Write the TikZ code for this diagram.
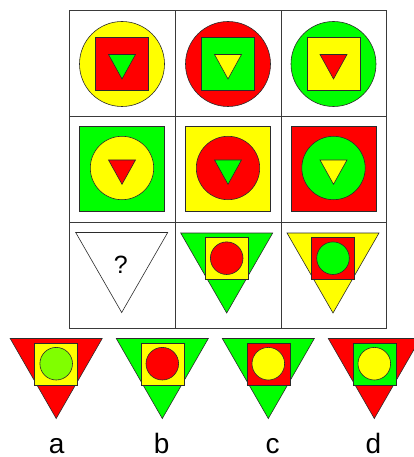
\documentclass[tikz,border=0pt]{standalone}
\usepackage{fontspec}
\setmainfont{Liberation Sans}

\definecolor{puzzleRed}{HTML}{FF0000}
\definecolor{puzzleGreen}{HTML}{00FF00}
\definecolor{puzzleYellow}{HTML}{FFFF00}
\definecolor{puzzleLime}{HTML}{80FF00}
\definecolor{puzzleInk}{HTML}{2B2B2B}
\definecolor{puzzleGrid}{HTML}{3A3A3A}

\begin{document}
\begin{tikzpicture}[x=1pt,y=-1pt,
  figline/.style={draw=puzzleInk,line width=0.6pt},
  gridline/.style={draw=puzzleGrid,line width=1pt}]
  \useasboundingbox (0,0) rectangle (414,457);
  \clip (0,0) rectangle (414,457);

  % grid of nine cells
  \path[gridline] (69,11) rectangle (386,328);
  \foreach \gx in {175,281}
    \path[gridline] (\gx,11) -- (\gx,328);
  \foreach \gy in {117,222}
    \path[gridline] (69,\gy) -- (386,\gy);

  % first row: circle, square, small triangle
  \foreach \x/\outer/\mid/\inner in {
    122/puzzleYellow/puzzleRed/puzzleGreen,
    228/puzzleRed/puzzleGreen/puzzleYellow,
    333.5/puzzleGreen/puzzleYellow/puzzleRed}{
    \path[figline,fill=\outer] (\x,64) circle[radius=42.5];
    \path[figline,fill=\mid] (\x-26.5,37.5) rectangle ++(53,53);
    \path[figline,fill=\inner] (\x-13.5,54.5) -- (\x+13.5,54.5) -- (\x,79) -- cycle;
  }

  % second row: square, circle, small triangle
  \foreach \x/\outer/\mid/\inner in {
    122/puzzleGreen/puzzleYellow/puzzleRed,
    228/puzzleYellow/puzzleRed/puzzleGreen,
    333.5/puzzleRed/puzzleGreen/puzzleYellow}{
    \path[figline,fill=\outer] (\x-42.5,126.5) rectangle ++(85,85);
    \path[figline,fill=\mid] (\x,168) circle[radius=31.7];
    \path[figline,fill=\inner] (\x-13.5,160) -- (\x+13.5,160) -- (\x,184.3) -- cycle;
  }

  % third row and the four answers: triangle, square, circle
  \foreach \x/\y/\outer/\mid/\inner in {
    226.7/233/puzzleGreen/puzzleYellow/puzzleRed,
    333/233/puzzleYellow/puzzleRed/puzzleGreen,
    56.2/338.5/puzzleRed/puzzleYellow/puzzleLime,
    162.3/338.5/puzzleGreen/puzzleYellow/puzzleRed,
    268.3/338.5/puzzleGreen/puzzleRed/puzzleYellow,
    374.3/338.5/puzzleRed/puzzleGreen/puzzleYellow}{
    \path[figline,fill=\outer] (\x-46,\y) -- (\x+46,\y) -- (\x,\y+80) -- cycle;
    \path[figline,fill=\mid] (\x-21.5,\y+4.3) rectangle ++(43,42);
    \path[figline,fill=\inner] (\x,\y+25.2) circle[radius=16.3];
  }

  % the missing figure
  \path[figline,fill=white] (75.7,232.5) -- (167.7,232.5) -- (121.7,312.5) -- cycle;
  \node[anchor=base,inner sep=0pt,font=\fontsize{25}{30}\selectfont] (qmark)
    at (120.8,273.5) {?};

  % answer letters
  \foreach \x/\name in {56.7/a,161.7/b,272.7/c,373.3/d}
    \node[anchor=base,inner sep=0pt,font=\fontsize{28}{34}\selectfont] (lbl\name)
      at (\x,453.5) {\name};
\end{tikzpicture}
\end{document}
